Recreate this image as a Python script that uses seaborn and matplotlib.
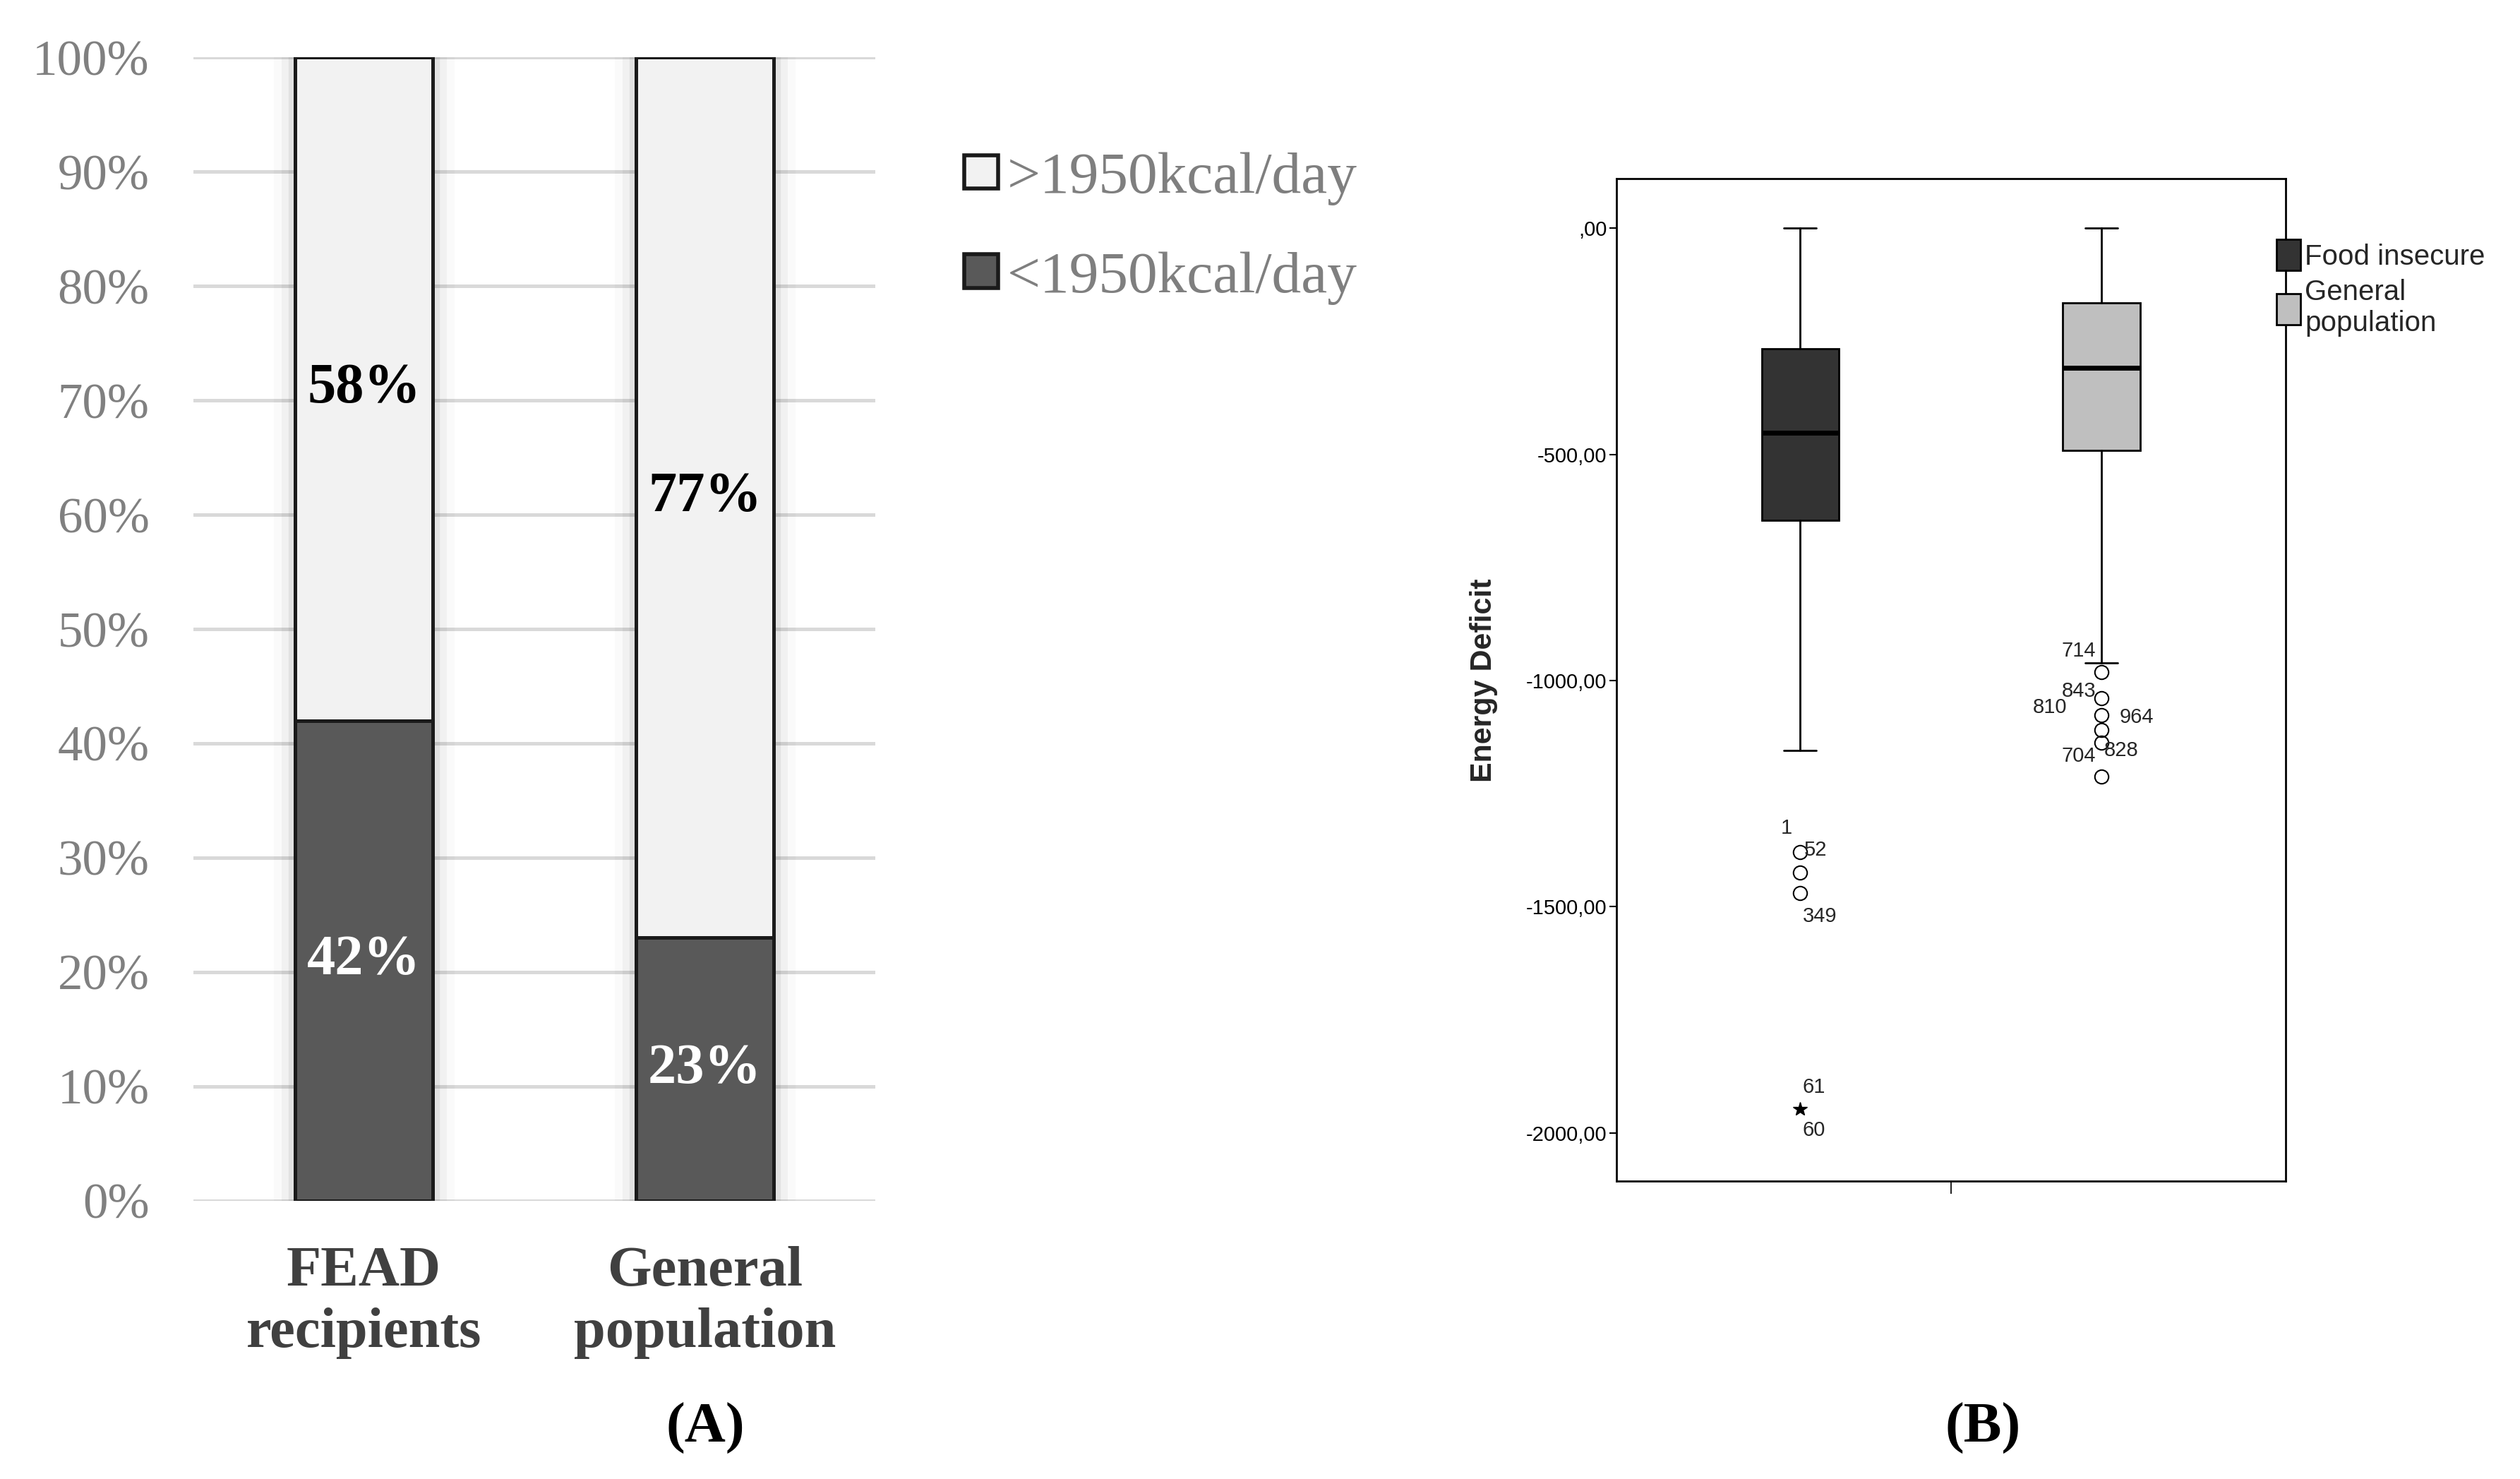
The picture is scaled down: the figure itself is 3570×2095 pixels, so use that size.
import matplotlib
matplotlib.use("Agg")
import matplotlib.pyplot as plt
import matplotlib.patheffects as pe
from matplotlib.patches import Patch
import seaborn as sns

# panel A data
groups_a = ["FEAD\nrecipients", "General\npopulation"]
below_1950 = [42, 23]
above_1950 = [58, 77]
legend_a = [">1950kcal/day", "<1950kcal/day"]
pct_ticks = [0, 10, 20, 30, 40, 50, 60, 70, 80, 90, 100]

# panel B data (energy deficit, kcal/day)
groups_b = ["Food insecure", "General\npopulation"]
upper_whisker = [0, 0]
q3 = [-267, -165]
median = [-452, -308]
q1 = [-645, -491]
lower_whisker = [-1154, -961]
outliers = [[-1379, -1424, -1470], [-982, -1039, -1077, -1110, -1137, -1213]]
extremes_food = [-1947]
food_ids = ["1", "52", "349", "61", "60"]
food_id_values = [-1379, -1379, -1470, -1947, -1947]
gen_ids = ["714", "843", "810", "964", "704", "828"]
gen_id_values = [-982, -1039, -1077, -1077, -1137, -1137]
deficit_ticks = [0, -500, -1000, -1500, -2000]

# label offsets (points)
food_offsets = [(-14, 24), (16, 2), (20, -24), (14, 22), (14, -22)]
gen_offsets = [(-23, 22), (-23, 7), (-53, 8), (36, -2), (-23, -14), (20, -8)]

sns.set_theme(style="white")
serif = ["Liberation Serif", "DejaVu Serif"]
sans = ["Liberation Sans", "DejaVu Sans"]
plt.rcParams["font.family"] = sans

light = "#f2f2f2"
dark = "#595959"

fig = plt.figure(figsize=(35.7, 20.95), dpi=100)

# ---------- Panel A: stacked bars ----------
axA = fig.add_axes([0.0768, 0.1881, 0.2705, 0.7732])
glow = [pe.Stroke(linewidth=44, foreground="black", alpha=0.02),
        pe.Stroke(linewidth=28, foreground="black", alpha=0.035),
        pe.Stroke(linewidth=14, foreground="black", alpha=0.06),
        pe.Normal()]
totals = [b + a for b, a in zip(below_1950, above_1950)]
sns.barplot(x=groups_a, y=totals, color=light, saturation=1, width=0.405,
            edgecolor="#1a1a1a", linewidth=3.6, ax=axA, path_effects=glow)
sns.barplot(x=groups_a, y=below_1950, color=dark, saturation=1, width=0.405,
            edgecolor="#1a1a1a", linewidth=3.6, ax=axA)

for i, (b, a) in enumerate(zip(below_1950, above_1950)):
    axA.text(i, b + a / 2, f"{a}%", ha="center", va="center", fontsize=58,
             fontweight="bold", family=serif, color="black")
    axA.text(i, b / 2, f"{b}%", ha="center", va="center", fontsize=58,
             fontweight="bold", family=serif, color="white")

axA.set_xlim(-0.5, 1.5)
axA.set_ylim(0, 100)
axA.set_yticks(pct_ticks)
axA.set_yticklabels([f"{t}%" for t in pct_ticks], family=serif, fontsize=51,
                    color="#808080")
axA.tick_params(axis="y", length=0, pad=45)
axA.tick_params(axis="x", length=0, pad=46)
for lab in axA.get_xticklabels():
    lab.set_family(serif)
    lab.set_fontsize(58)
    lab.set_fontweight("bold")
    lab.set_color("#404040")
    lab.set_linespacing(1.25)
axA.yaxis.grid(True, color="#d9d9d9", linewidth=3.6)
axA.set_axisbelow(True)
for s in axA.spines.values():
    s.set_visible(False)
axA.set_xlabel("")
axA.set_ylabel("")

handles_a = [Patch(facecolor=light, edgecolor="#1a1a1a", linewidth=4),
             Patch(facecolor=dark, edgecolor="#1a1a1a", linewidth=4)]
legA = fig.legend(handles_a, legend_a, loc="upper left",
                  bbox_to_anchor=(0.3826, 0.897), frameon=False,
                  prop={"family": serif, "size": 60}, handlelength=0.58,
                  handleheight=0.5, handletextpad=0.15, labelspacing=0.78,
                  borderpad=0, borderaxespad=0)
for t in legA.get_texts():
    t.set_color("#7f7f7f")

fig.text(0.280, 0.034, "(A)", ha="center", va="center", fontsize=58,
         fontweight="bold", family=serif, color="black")

# ---------- Panel B: box plot ----------
axB = fig.add_axes([0.6415, 0.2014, 0.2655, 0.6776])
stats = []
for i in range(len(groups_b)):
    stats.append(dict(label=groups_b[i], whislo=lower_whisker[i], q1=q1[i],
                      med=median[i], q3=q3[i], whishi=upper_whisker[i],
                      fliers=outliers[i]))
box_colors = ["#333333", "#bfbfbf"]
res = axB.bxp(stats, positions=[0, 1], widths=0.256, capwidths=0.107,
              patch_artist=True, showfliers=True,
              boxprops=dict(edgecolor="black", linewidth=2),
              medianprops=dict(color="black", linewidth=5),
              whiskerprops=dict(color="black", linewidth=2),
              capprops=dict(color="black", linewidth=2),
              flierprops=dict(marker="o", markerfacecolor="none",
                              markeredgecolor="black", markersize=14,
                              markeredgewidth=1.5))
for patch, c in zip(res["boxes"], box_colors):
    patch.set_facecolor(c)
axB.plot([0] * len(extremes_food), extremes_food, ls="none", marker="*",
         color="black", markersize=15)

for lab, val, off in zip(food_ids, food_id_values, food_offsets):
    axB.annotate(lab, (0, val), xytext=off, textcoords="offset points",
                 ha="center", va="center", fontsize=21, family=sans)
for lab, val, off in zip(gen_ids, gen_id_values, gen_offsets):
    axB.annotate(lab, (1, val), xytext=off, textcoords="offset points",
                 ha="center", va="center", fontsize=21, family=sans)

axB.set_xlim(-0.609, 1.611)
axB.set_ylim(-2107, 109)
axB.set_xticks([0.5])
axB.set_xticklabels([""])
axB.set_yticks(deficit_ticks)
axB.set_yticklabels([",00" if t == 0 else f"{t},00" for t in deficit_ticks],
                    fontsize=21, family=sans)
axB.tick_params(axis="y", direction="out", length=7, width=1.5, pad=3,
                left=True, colors="black")
axB.tick_params(axis="x", direction="out", length=13, width=1.5, bottom=True)
for s in axB.spines.values():
    s.set_visible(True)
    s.set_color("black")
    s.set_linewidth(2)
axB.set_xlabel("")
axB.set_ylabel("Energy Deficit", fontsize=31, fontweight="bold", family=sans)
axB.yaxis.set_label_coords(-0.177, 0.5)

handles_b = [Patch(facecolor=c, edgecolor="black", linewidth=2) for c in box_colors]
legB = fig.legend(handles_b, groups_b, loc="upper left",
                  bbox_to_anchor=(0.9034, 0.838), frameon=False,
                  prop={"family": sans, "size": 29}, handlelength=0.85,
                  handleheight=1.3, handletextpad=0.15, labelspacing=0.3,
                  borderpad=0, borderaxespad=0)

fig.text(0.787, 0.034, "(B)", ha="center", va="center", fontsize=58,
         fontweight="bold", family=serif, color="black")

fig.savefig("out.png", dpi=100, facecolor="white")
